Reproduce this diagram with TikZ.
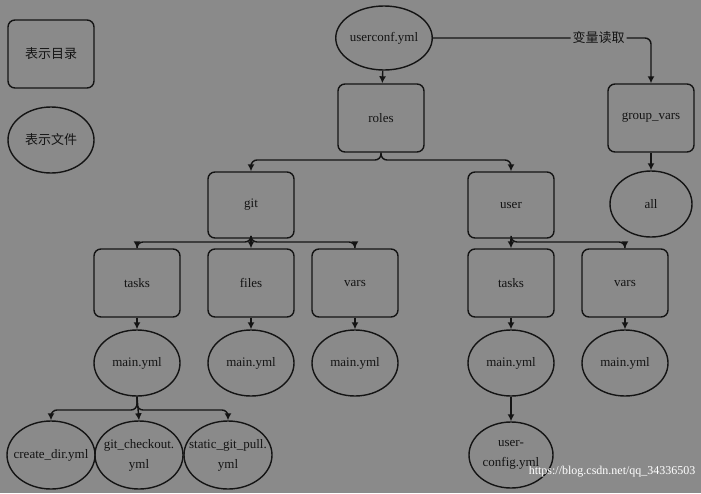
\documentclass[tikz,border=0pt]{standalone}
\usepackage{fontspec}
\setmainfont{Liberation Serif}
\newfontfamily\cjkk{Noto Sans CJK SC}
\usetikzlibrary{arrows.meta,shapes.geometric}
\definecolor{bg}{HTML}{8A8A8A}
\definecolor{ln}{HTML}{141414}
\begin{document}
\begin{tikzpicture}[x=1pt,y=-1pt,
  dir/.style={draw=ln,line width=1.4pt,rounded corners=7pt,minimum width=86pt,minimum height=68pt,inner sep=1pt},
  fil/.style={draw=ln,line width=1.4pt,ellipse,minimum width=86pt,minimum height=66pt,inner sep=0pt,align=center,font=\fontsize{13}{20}\selectfont},
  small/.style={minimum width=88pt,minimum height=68pt,inner xsep=-14pt,inner ysep=-4pt},
  con/.style={draw=ln,line width=1.4pt,rounded corners=6pt,-{Latex[length=7pt,width=7pt]}},
  every node/.style={font=\fontsize{13}{15}\selectfont,text=ln}]
\fill[bg] (0,0) rectangle (701,493);
\useasboundingbox (0,0) rectangle (701,493);
\node[dir] (ld) at (51,54) {\cjkk 表示目录};
\node[fil] (lf) at (51,140) {\cjkk 表示文件};
\node[fil,minimum width=92pt,minimum height=64pt] (uc) at (384,38) {userconf.yml};
\node[dir] (roles) at (381,118) {roles};
\node[dir] (gv) at (651,118) {group\_vars};
\node[fil,minimum width=82pt] (all) at (651,204) {all};
\node[dir,minimum height=66pt] (git) at (251,205) {git};
\node[dir,minimum height=66pt] (user) at (511,205) {user};
\node[dir] (gt) at (137,283) {tasks};
\node[dir] (gf) at (251,283) {files};
\node[dir] (gvv) at (355,283) {vars};
\node[dir] (ut) at (511,283) {tasks};
\node[dir] (uv) at (625,283) {vars};
\node[fil] (m1) at (137,363) {main.yml};
\node[fil] (m2) at (251,363) {main.yml};
\node[fil] (m3) at (355,363) {main.yml};
\node[fil] (m4) at (511,363) {main.yml};
\node[fil] (m5) at (625,363) {main.yml};
\node[fil,minimum width=84pt,minimum height=66pt] (ucf) at (511,455) {user-\\config.yml};
\node[fil,small] (cd) at (51,455) {create\_dir.yml};
\node[fil,small] (gc) at (139,455) {git\_checkout.\\yml};
\node[fil,small] (sg) at (228,455) {static\_git\_pull.\\yml};
\coordinate (r1) at (381,160);
\coordinate (g1) at (251,242);
\coordinate (u1) at (511,242);
\coordinate (b1) at (137,410);
\draw[con] (uc) -- (roles);
\draw[con] (uc.east) -| node[pos=0.38,fill=bg,inner sep=2pt]{\cjkk 变量读取} (gv.north);
\draw[con] (gv) -- (all);
\draw[con] (roles.south) -- (r1) -| (git.north);
\draw[con] (roles.south) -- (r1) -| (user.north);
\draw[con] (git.south) -- (g1) -| (gt.north);
\draw[con] (git.south) -- (gf.north);
\draw[con] (git.south) -- (g1) -| (gvv.north);
\draw[con] (user.south) -- (ut.north);
\draw[con] (user.south) -- (u1) -| (uv.north);
\draw[con] (gt) -- (m1);
\draw[con] (gf) -- (m2);
\draw[con] (gvv) -- (m3);
\draw[con] (ut) -- (m4);
\draw[con] (uv) -- (m5);
\draw[con] (m4) -- (ucf);
\draw[con] (m1.south) -- (b1) -| (cd.north);
\draw[con] (m1.south) -- (gc.north);
\draw[con] (m1.south) -- (b1) -| (sg.north);
\node[white,font=\fontsize{12}{13}\selectfont,anchor=east] (wm) at (699,472) {https://blog.csdn.net/qq\_34336503};
\end{tikzpicture}
\end{document}
